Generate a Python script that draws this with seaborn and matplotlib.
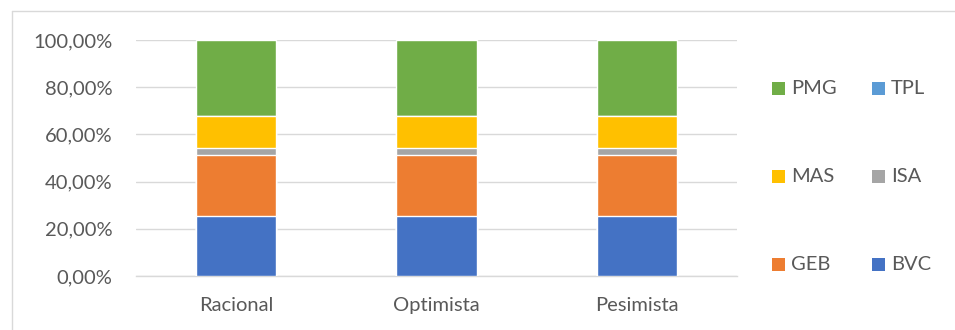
import matplotlib
matplotlib.use("Agg")
import matplotlib.pyplot as plt
from matplotlib.patches import Rectangle
from matplotlib.lines import Line2D
from matplotlib.ticker import FuncFormatter
import numpy as np
import pandas as pd
import seaborn as sns

# Portfolio weights per scenario (fractions of 1)
escenarios = ["Racional", "Optimista", "Pesimista"]
activos = ["BVC", "GEB", "ISA", "MAS", "TPL", "PMG"]
bvc = [0.254, 0.254, 0.254]
geb = [0.257, 0.257, 0.257]
isa = [0.030, 0.030, 0.030]
mas = [0.137, 0.137, 0.137]
tpl = [0.000, 0.000, 0.000]
pmg = [0.322, 0.322, 0.322]
colores = {"BVC": "#4472C4", "GEB": "#ED7D31", "ISA": "#A5A5A5",
           "MAS": "#FFC000", "TPL": "#5B9BD5", "PMG": "#70AD47"}

sns.set_theme(style="white")
plt.rcParams["font.family"] = ["Lato", "DejaVu Sans"]
texto = "#595959"
fs = 14.5

df = pd.DataFrame({"escenario": escenarios, "BVC": bvc, "GEB": geb, "ISA": isa,
                   "MAS": mas, "TPL": tpl, "PMG": pmg})
acum = df[activos].cumsum(axis=1)

W, H = 955, 330
fig = plt.figure(figsize=(W / 100, H / 100), dpi=100)
ax = fig.add_axes([136 / W, 54 / H, 601 / W, 236 / H])

# Stacked bars: draw cumulative totals from the top layer down
for activo in reversed(activos):
    sns.barplot(x=df["escenario"], y=acum[activo], color=colores[activo],
                width=0.4, saturation=1, ax=ax, zorder=3)

ax.set_ylim(0, 1)
ax.set_xlim(-0.5, 2.5)
ax.set_yticks(np.arange(0, 1.01, 0.2))
ax.yaxis.set_major_formatter(FuncFormatter(lambda v, p: f"{v*100:.2f}%".replace(".", ",")))
ax.grid(axis="y", color="#D9D9D9", linewidth=1, zorder=0)
ax.grid(axis="x", visible=False)
for s in ["top", "right", "left"]:
    ax.spines[s].set_visible(False)
ax.spines["bottom"].set_color("#D9D9D9")
ax.spines["bottom"].set_linewidth(1)
ax.set_xlabel("")
ax.set_ylabel("")
ax.tick_params(axis="both", length=0, labelsize=fs, colors=texto)
ax.tick_params(axis="y", pad=17)
ax.tick_params(axis="x", pad=15)

# Legend: two columns, three rows
filas = [["PMG", "TPL"], ["MAS", "ISA"], ["GEB", "BVC"]]
col_x = [772, 872]
lado = 13
for i, fila in enumerate(filas):
    yc = 88.5 + i * 88
    for j, nombre in enumerate(fila):
        x0 = col_x[j]
        fig.add_artist(Rectangle((x0 / W, 1 - (yc + lado / 2) / H), lado / W, lado / H,
                                 transform=fig.transFigure, facecolor=colores[nombre],
                                 edgecolor="none"))
        fig.text((x0 + lado + 6) / W, 1 - yc / H, nombre, fontsize=fs,
                 color=texto, va="center", ha="left")

# Chart frame
fig.add_artist(Line2D([12 / W, 12 / W], [0, 1 - 10.5 / H],
                      transform=fig.transFigure, color="#D9D9D9", linewidth=1))
fig.add_artist(Line2D([12 / W, 1], [1 - 10.5 / H, 1 - 10.5 / H],
                      transform=fig.transFigure, color="#D9D9D9", linewidth=1))

fig.savefig("out.png", dpi=100, facecolor="white")
